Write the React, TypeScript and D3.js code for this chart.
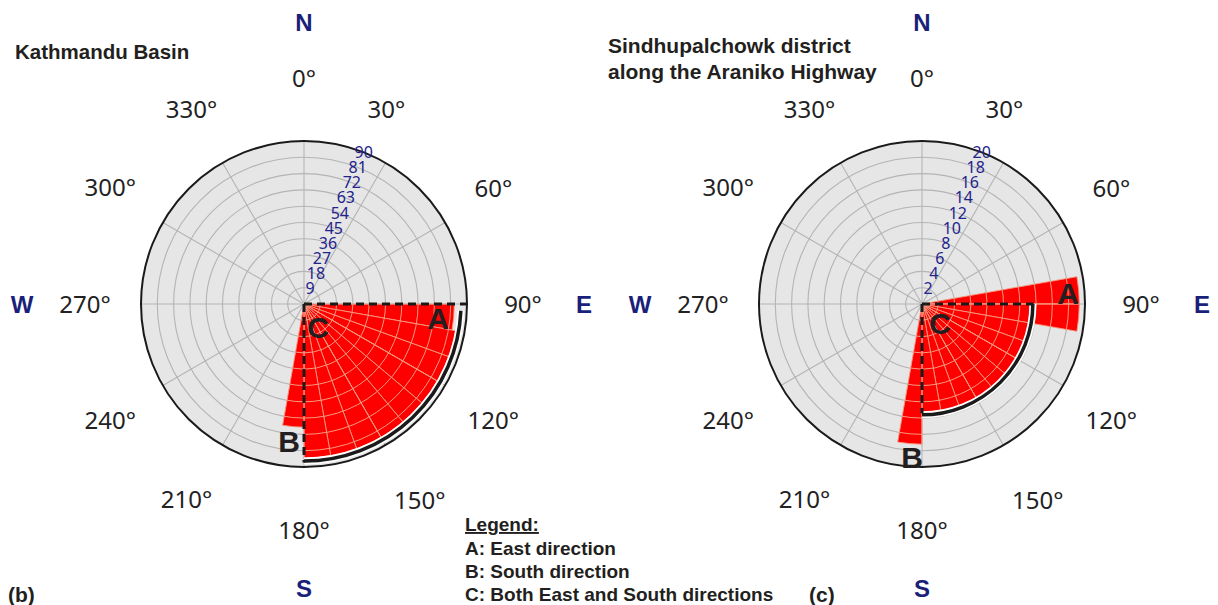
import React from "react";
import * as d3 from "d3";

// ---------- data ----------
const thetaTicks = [0, 30, 60, 90, 120, 150, 180, 210, 240, 270, 300, 330];
// angular nudges and radii of the tick labels as placed in the original figure
const thetaLabelNudge = [0, -7, -1.5, 0, 1.5, -0.5, 0, 1, -1, 0, 1, 0];
const thetaLabelRadius = [226, 211, 222, 219, 222, 228, 226, 228, 226, 219, 226, 225];

const kathRings = [9, 18, 27, 36, 45, 54, 63, 72, 81, 90];
const kathBinStart = [90, 100, 110, 120, 130, 140, 150, 160, 170, 180];
const kathCounts = [83, 85, 85, 85, 85, 85, 85, 85, 85, 68];

const sindRings = [2, 4, 6, 8, 10, 12, 14, 16, 18, 20];
const sindBinStart = [80, 90, 100, 110, 120, 130, 140, 150, 160, 170, 180];
const sindCounts = [19.3, 19.3, 13.3, 13.3, 13.3, 13.3, 13.3, 13.3, 13.3, 13.3, 17.2];

const binWidth = 10;

const legendLines = ["A: East direction", "B: South direction", "C: Both East and South directions"];

// ---------- layout ----------
const W = 1218;
const H = 605;
const R = 163;
const CY = 304;

const rad = (deg: number) => (deg * Math.PI) / 180;
const px = (cx: number, r: number, deg: number) => cx + r * Math.sin(rad(deg));
const py = (r: number, deg: number) => CY - r * Math.cos(rad(deg));

type PolarProps = {
  id: string;
  cx: number;
  rings: number[];
  binStart: number[];
  counts: number[];
  dashH: number;
  dashV: number;
  arcR: number;
  arcStart: number;
  labels: { A: [number, number]; B: [number, number]; C: [number, number] };
};

function PolarChart(p: PolarProps) {
  const rmax = p.rings[p.rings.length - 1];
  const r = d3.scaleLinear().domain([0, rmax]).range([0, R]);
  const barArc = d3.arc<any>();
  const bars = p.binStart.map((s, i) =>
    barArc({ innerRadius: 0, outerRadius: r(p.counts[i]), startAngle: rad(s), endAngle: rad(s + binWidth) }) as string
  );
  const annArc = d3.arc<any>()({ innerRadius: r(p.arcR), outerRadius: r(p.arcR), startAngle: rad(p.arcStart), endAngle: rad(180) }) as string;
  const innerRings = p.rings.slice(0, -1);
  const grid = (stroke: string, sw: number) => (
    <g>
      {innerRings.map((v) => (
        <circle key={v} cx={p.cx} cy={CY} r={r(v)} fill="none" stroke={stroke} strokeWidth={sw} />
      ))}
      {thetaTicks.map((t) => (
        <line key={t} x1={p.cx} y1={CY} x2={px(p.cx, R, t)} y2={py(R, t)} stroke={stroke} strokeWidth={sw} />
      ))}
    </g>
  );
  return (
    <g>
      <defs>
        <clipPath id={p.id + "-clip"}>
          {bars.map((d, i) => (
            <path key={i} d={d} transform={`translate(${p.cx},${CY})`} />
          ))}
        </clipPath>
      </defs>
      <circle cx={p.cx} cy={CY} r={R} fill="#e6e6e6" />
      {grid("#b4b4b4", 1.1)}
      {bars.map((d, i) => (
        <path key={i} d={d} transform={`translate(${p.cx},${CY})`} fill="#ff0000" stroke="#f49a80" strokeWidth={0.9} />
      ))}
      <g clipPath={`url(#${p.id}-clip)`}>{grid("#f49a80", 1)}</g>
      <circle cx={p.cx} cy={CY} r={R} fill="none" stroke="#1a1a1a" strokeWidth={2} />
      {p.rings.map((v) => (
        <text
          key={v}
          x={px(p.cx, r(v), 21.5)}
          y={py(r(v), 21.5)}
          dy="0.35em"
          textAnchor="middle"
          fontFamily="'Noto Sans', sans-serif"
          fontSize={16}
          fill="#23238c"
        >
          {v}
        </text>
      ))}
      {thetaTicks.map((t, i) => {
        const a = t + thetaLabelNudge[i];
        const lr = thetaLabelRadius[i];
        return (
          <text
            key={t}
            x={px(p.cx, lr, a)}
            y={py(lr, a)}
            dy="0.36em"
            textAnchor="middle"
            fontFamily="'Noto Sans', sans-serif"
            fontSize={24}
            fill="#222"
          >
            {t}°
          </text>
        );
      })}
      {[
        ["N", 0, 282],
        ["E", 90, 280],
        ["S", 180, 284],
        ["W", 270, 282],
      ].map(([l, a, lr]) => (
        <text
          key={l as string}
          x={px(p.cx, lr as number, a as number)}
          y={py(lr as number, a as number)}
          dy="0.36em"
          textAnchor="middle"
          fontFamily="'Liberation Sans', Arial, sans-serif"
          fontWeight="bold"
          fontSize={24}
          fill="#1a1f7a"
        >
          {l}
        </text>
      ))}
      <path d={annArc} transform={`translate(${p.cx},${CY})`} fill="none" stroke="#fff" strokeWidth={7} />
      <path d={annArc} transform={`translate(${p.cx},${CY})`} fill="none" stroke="#1a1a1a" strokeWidth={3.5} />
      <line x1={p.cx} y1={CY} x2={px(p.cx, r(p.dashH), 90)} y2={py(r(p.dashH), 90)} stroke="#1a1a1a" strokeWidth={3} strokeDasharray="8 5" />
      <line x1={p.cx} y1={CY} x2={px(p.cx, r(p.dashV), 180)} y2={py(r(p.dashV), 180)} stroke="#1a1a1a" strokeWidth={3} strokeDasharray="8 5" />
      {(["A", "B", "C"] as const).map((k) => (
        <text
          key={k}
          x={p.cx + p.labels[k][0]}
          y={CY + p.labels[k][1]}
          dy="0.36em"
          textAnchor="middle"
          fontFamily="'Liberation Sans', Arial, sans-serif"
          fontWeight="bold"
          fontSize={30}
          fill="#231f20"
        >
          {k}
        </text>
      ))}
    </g>
  );
}

export default function App() {
  const bold = { fontFamily: "'Liberation Sans', Arial, sans-serif", fontWeight: "bold" as const, fill: "#231f20" };
  return (
    <svg width={W} height={H} style={{ position: "absolute", left: 0, top: 0, background: "#fff" }}>
      <rect width={W} height={H} fill="#fff" />
      <PolarChart
        id="kath"
        cx={304}
        rings={kathRings}
        binStart={kathBinStart}
        counts={kathCounts}
        dashH={89.5}
        dashV={87.5}
        arcR={86.7}
        arcStart={92.5}
        labels={{ A: [134, 14], B: [-15, 137], C: [14, 23] }}
      />
      <PolarChart
        id="sind"
        cx={922}
        rings={sindRings}
        binStart={sindBinStart}
        counts={sindCounts}
        dashH={13.7}
        dashV={13.4}
        arcR={13.6}
        arcStart={90}
        labels={{ A: [146, -11], B: [-10, 153], C: [18, 19] }}
      />
      <text x={15} y={59} fontSize={20.5} {...bold}>Kathmandu Basin</text>
      <text x={608} y={53} fontSize={21} {...bold}>Sindhupalchowk district</text>
      <text x={608} y={79} fontSize={21} {...bold}>along the Araniko Highway</text>
      <text x={8} y={602} fontSize={21} {...bold}>(b)</text>
      <text x={809} y={602} fontSize={21} {...bold}>(c)</text>
      <text x={465} y={531} fontSize={19} textDecoration="underline" {...bold}>Legend:</text>
      {legendLines.map((l, i) => (
        <text key={l} x={465} y={555 + i * 23} fontSize={19} {...bold}>
          {l}
        </text>
      ))}
    </svg>
  );
}
